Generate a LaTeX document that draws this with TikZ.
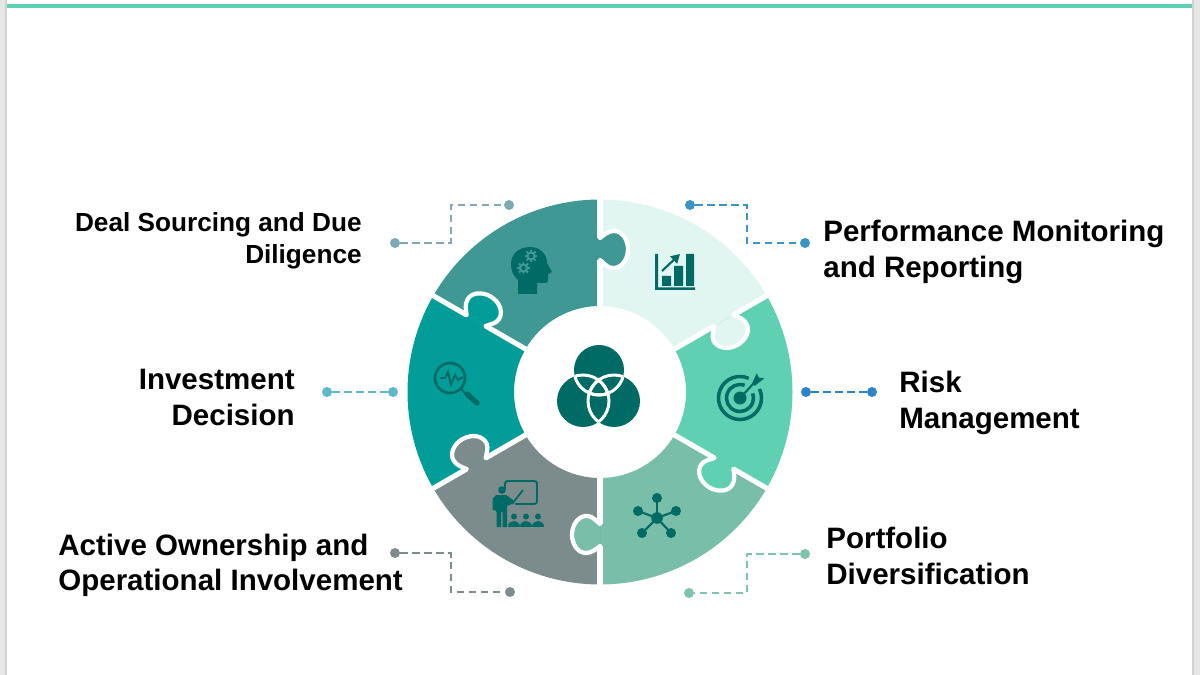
\documentclass[tikz,border=0pt]{standalone}
\usepackage{xcolor}
\usepackage{fontspec}
\setmainfont{Liberation Sans}
\usepackage{tikz}
\usetikzlibrary{arrows.meta,positioning}

\definecolor{headcol}{HTML}{3F9894}
\definecolor{lightcol}{HTML}{E2F6F1}
\definecolor{greencol}{HTML}{5FD1B2}
\definecolor{sagecol}{HTML}{79BEA8}
\definecolor{graycol}{HTML}{7C8C8D}
\definecolor{tealcol}{HTML}{029C99}
\definecolor{darkcol}{HTML}{006A64}
\definecolor{bandcol}{HTML}{E6E6E6}
\definecolor{edgecol}{HTML}{D2D2D2}
\definecolor{dealcol}{HTML}{7FAAB3}
\definecolor{perfcol}{HTML}{3A95C3}
\definecolor{riskcol}{HTML}{2B85C9}
\definecolor{investcol}{HTML}{5FB9C4}
\definecolor{activecol}{HTML}{7F8C8D}
\definecolor{portcol}{HTML}{7CC4AA}

\tikzset{
  biglabel/.style={font=\fontsize{16.8pt}{20pt}\selectfont\bfseries},
  smalllabel/.style={font=\fontsize{14.9pt}{18.1pt}\selectfont\bfseries},
  conndot/.style={circle, fill=#1, inner sep=0pt, minimum size=0.2cm},
  connline/.style={draw=#1, line width=1.05pt, dash pattern=on 4.2pt off 2.6pt}
}

\begin{document}
\begin{tikzpicture}[x=0.02cm,y=-0.02cm]
    \useasboundingbox (0,0) rectangle (1200,675);

    % Page bands and top rule
    \fill[bandcol] (0,0) rectangle (6,675);
    \fill[edgecol] (5,0) rectangle (7,675);
    \fill[bandcol] (1193,0) rectangle (1200,675);
    \fill[edgecol] (1192,0) rectangle (1194,675);
    \fill[greencol] (7,4.5) rectangle (1192,8);

    % Puzzle ring
    \begin{scope}[shift={(600,392)},y=0.02cm]
        \foreach \ang/\col in {150/headcol,90/lightcol,30/greencol,-30/sagecol,-90/graycol,-150/tealcol} {
            \pgfmathsetmacro{\nxt}{\ang-60}
            \fill[\col] (\ang:86) -- (\ang:192.5) arc[start angle=\ang,end angle=\nxt,radius=192.5]
                -- (\nxt:86) arc[start angle=\nxt,end angle=\ang,radius=86] -- cycle;
        }
        % Joints with their tabs
        \foreach \ang/\col in {150/headcol,90/lightcol,30/greencol,-30/sagecol,-90/graycol,-150/tealcol} {
            \begin{scope}[rotate=\ang-60]
                \draw[white, line width=2.9pt] (84,0) -- (132,0);
                \draw[white, line width=2.9pt] (154,0) -- (195,0);
                \draw[white, line width=2.4pt, line cap=round, fill=\col] (154,0) .. controls (157,-4) and (161,-8) .. (161,-14)
                    .. controls (161,-23) and (151,-28) .. (143,-28)
                    .. controls (131,-28) and (123,-20) .. (124,-12)
                    .. controls (124.5,-7) and (129,-4) .. (132,0);
            \end{scope}
        }
    \end{scope}

    % Centre circles
    \fill[darkcol] (599,370) circle[radius=25] (583,401) circle[radius=26] (614,401) circle[radius=26];
    \begin{scope}
        \clip (599,370) circle[radius=25];
        \draw[white, line width=1.7pt] (583,401) circle[radius=26] (614,401) circle[radius=26];
    \end{scope}
    \begin{scope}
        \clip (583,401) circle[radius=26];
        \draw[white, line width=1.7pt] (599,370) circle[radius=25] (614,401) circle[radius=26];
    \end{scope}
    \begin{scope}
        \clip (614,401) circle[radius=26];
        \draw[white, line width=1.7pt] (599,370) circle[radius=25] (583,401) circle[radius=26];
    \end{scope}

    % Head icon
    \fill[darkcol] (518,294) -- (518,280) .. controls (513,276) and (511,270) .. (511,264)
        .. controls (511,254) and (519,247) .. (530,247) .. controls (541,247) and (547,255) .. (547,263)
        -- (552,272) -- (548,274) -- (548,280) .. controls (548,282) and (547,283) .. (545,283)
        -- (537,283) -- (537,294) -- cycle;
    \foreach \gx/\gy in {531/256,523.5/268} {
        \fill[headcol] (\gx,\gy) circle[radius=4.8];
        \foreach \tooth in {0,45,...,315}
            \draw[headcol, line width=1.1pt] (\gx,\gy) -- ++(\tooth:6.4);
        \fill[darkcol] (\gx,\gy) circle[radius=2.2];
    }

    % Chart icon
    \fill[darkcol] (655,254) rectangle (658,290) (655,287.5) rectangle (695,290);
    \fill[darkcol] (662,276) rectangle (671,286) (674,266) rectangle (683,286) (686,254) rectangle (694,286);
    \draw[darkcol, line width=1.2pt, -{Triangle[length=5pt,width=5.5pt]}] (662,271) -- (680,254);

    % Target icon
    \begin{scope}[shift={(740,398)},y=0.02cm]
        \draw[darkcol, line width=2pt] (66:21.5) arc[start angle=66,end angle=385,radius=21.5];
        \draw[darkcol, line width=2pt] (70:13.5) arc[start angle=70,end angle=380,radius=13.5];
        \fill[darkcol] (0,0) circle[radius=6.5];
        \draw[darkcol, line width=1.2pt] (0,0) -- (14,15);
        \fill[darkcol] (11.7,13.7) -- (16.7,24.7) -- (19,20.3) -- (24.3,19.7) -- (15,12.3) -- cycle;
    \end{scope}

    % Magnifier icon
    \draw[darkcol, line width=1.5pt] (450,378) circle[radius=15];
    \draw[darkcol, line width=1.2pt] (461,389) -- (467,395);
    \draw[darkcol, line width=3pt, line cap=round] (467,394) -- (477,403);
    \draw[darkcol, line width=1.1pt] (440,378) -- (445,378) -- (448,372) -- (451,385) -- (455,375) -- (458,380) -- (463,377);

    % Teacher icon
    \draw[darkcol, line width=1.1pt, rounded corners=1.5pt] (505,490) -- (505,481) -- (537,481) -- (537,504) -- (515,504);
    \draw[darkcol, line width=1pt] (512,504) -- (523,490);
    \fill[darkcol] (502,490) circle[radius=3.8];
    \fill[darkcol] (496,495) -- (506,495) -- (513,500) -- (514,503) -- (507,506) -- (507,527) -- (502.5,527) -- (502.5,512)
        -- (501,512) -- (501,527) -- (496.5,527) -- (496.5,512) -- (495,510) -- (492.5,510) -- (492.5,499) -- cycle;
    \foreach \sx in {514,526,538} {
        \fill[darkcol] (\sx,516.5) circle[radius=3];
        \fill[darkcol] (\sx-6,526.5) .. controls (\sx-6,519) and (\sx+6,519) .. (\sx+6,526.5) -- cycle;
    }

    % Network icon
    \foreach \nx/\ny in {657/498,638/511,676/511,642/533,671/533} {
        \draw[darkcol, line width=1.2pt] (657,518) -- (\nx,\ny);
        \fill[darkcol] (\nx,\ny) circle[radius=5];
    }
    \fill[darkcol] (657,518) circle[radius=5.8];

    % Labels
    \node[smalllabel, anchor=east, align=right, inner sep=0pt] (deal) at (362,241) {Deal Sourcing and Due\\Diligence};
    \node[biglabel, anchor=west, align=left, inner sep=0pt] (perf) at (823,252) {Performance Monitoring\\and Reporting};
    \node[biglabel, anchor=west, align=left, inner sep=0pt] (risk) at (899,403) {Risk\\Management};
    \node[biglabel, anchor=east, align=right, inner sep=0pt] (invest) at (295,397.5) {Investment\\Decision};
    \node[biglabel, anchor=west, align=left, inner sep=0pt] (active) at (58,565.5) {Active Ownership and\\Operational Involvement};
    \node[biglabel, anchor=west, align=left, inner sep=0pt] (port) at (826,556) {Portfolio\\Diversification};

    % Connector dots
    \node[conndot=dealcol] (dealA) at (395,243) {};
    \node[conndot=dealcol] (dealB) at (509,205) {};
    \node[conndot=perfcol] (perfA) at (690,205) {};
    \node[conndot=perfcol] (perfB) at (805,243) {};
    \node[conndot=riskcol] (riskA) at (806,392) {};
    \node[conndot=riskcol] (riskB) at (872,392) {};
    \node[conndot=investcol] (investA) at (327,392) {};
    \node[conndot=investcol] (investB) at (393,392) {};
    \node[conndot=activecol] (activeA) at (395,553) {};
    \node[conndot=activecol] (activeB) at (510,592) {};
    \node[conndot=portcol] (portA) at (805,554) {};
    \node[conndot=portcol] (portB) at (689,593) {};
    \coordinate (dealM) at (451,205);
    \coordinate (perfM) at (747,243);
    \coordinate (activeM) at (451,592);
    \coordinate (portM) at (747,593);

    % Connect dots with dashed elbows
    \draw[connline=dealcol] (dealA) -| (dealM) -- (dealB);
    \draw[connline=perfcol] (perfA) -| (perfM) -- (perfB);
    \draw[connline=riskcol] (riskA) -- (riskB);
    \draw[connline=investcol] (investA) -- (investB);
    \draw[connline=activecol] (activeA) -| (activeM) -- (activeB);
    \draw[connline=portcol] (portA) -| (portM) -- (portB);
\end{tikzpicture}
\end{document}
